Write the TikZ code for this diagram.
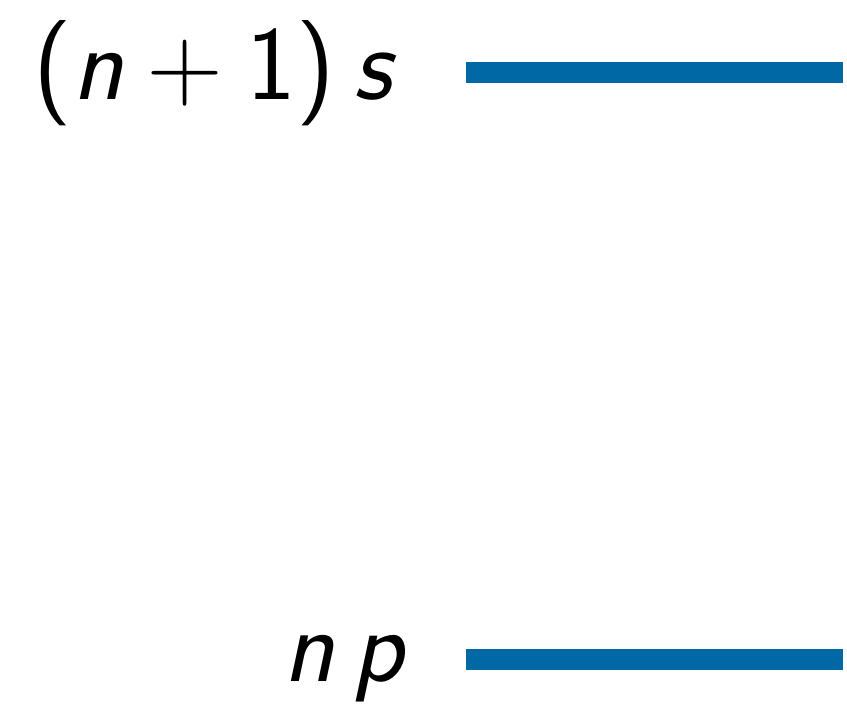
\documentclass[tikz,border=0pt]{standalone}
\usepackage{tikz}
\usetikzlibrary{positioning}
\definecolor{levelblue}{HTML}{0068A5}

\begin{document}
\begin{tikzpicture}[x=0.1mm,y=0.1mm,
  level/.style={line width=2.1mm,draw=levelblue},
  lbl/.style={inner sep=0pt,font=\fontsize{30}{36}\selectfont\sffamily}]
  \useasboundingbox (0,0) rectangle (847,704);

  % upper level
  \coordinate (sL) at (466,631);
  \coordinate (sR) at (843,631);
  \draw[level] (sL) -- (sR);
  \node[lbl,anchor=base east] (slabel) at (397,604)
    {(\textit{n}\hspace{0.22em}+\hspace{0.22em}1)\hspace{0.17em}\textit{s}};

  % lower level
  \coordinate (pL) at (466,44);
  \coordinate (pR) at (843,44);
  \draw[level] (pL) -- (pR);
  \node[lbl,anchor=base east] (plabel) at (408,22)
    {\textit{n}\hspace{0.17em}\textit{p}};
\end{tikzpicture}
\end{document}
